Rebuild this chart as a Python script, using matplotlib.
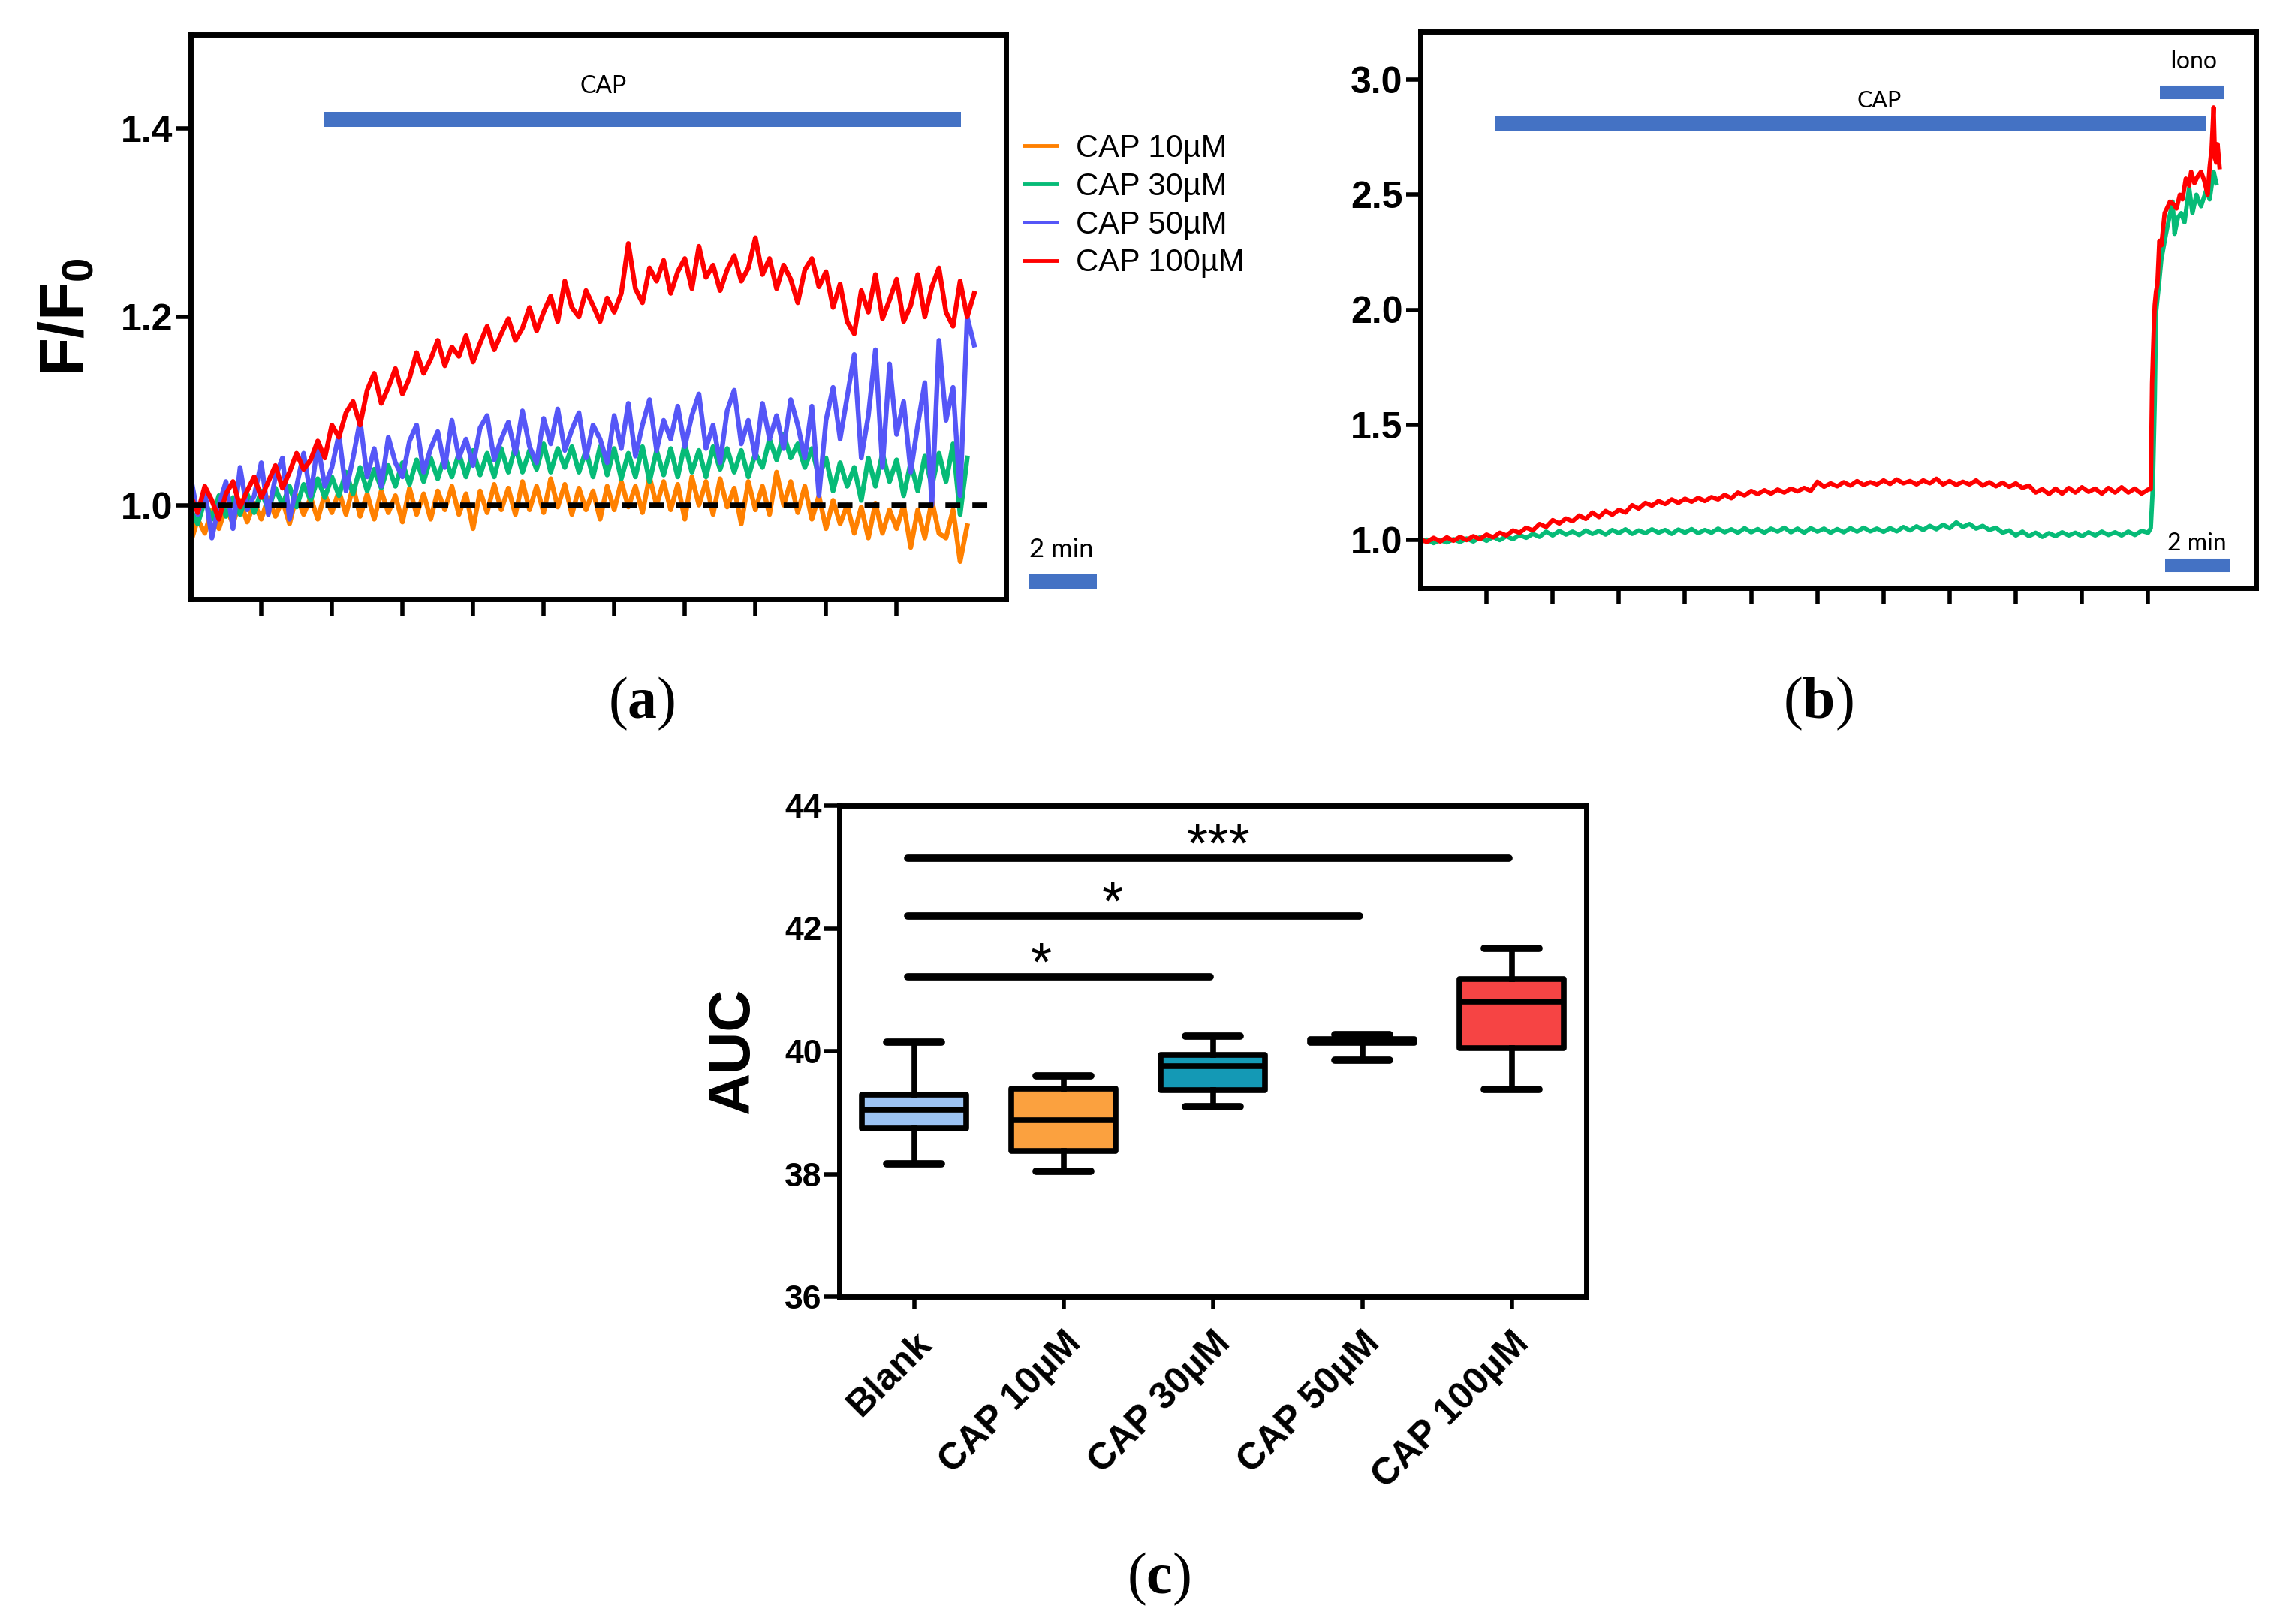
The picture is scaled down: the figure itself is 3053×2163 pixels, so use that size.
import numpy as np
import matplotlib
matplotlib.use("Agg")
import matplotlib.pyplot as plt

plt.rcParams['font.family'] = ['Liberation Sans', 'DejaVu Sans']
plt.rcParams['mathtext.fontset'] = 'custom'
plt.rcParams['mathtext.bf'] = 'Liberation Serif:bold'
plt.rcParams['mathtext.rm'] = 'Liberation Serif'
plt.rcParams['mathtext.sf'] = 'Liberation Sans:bold'

# ---------------- Panel (a) data: F/F0 traces, sampled every 0.1 time units -------------
a_dt = 0.1
a_cap10 = [0.960, 0.985, 0.970, 0.995, 0.975, 0.998, 0.980, 1.005, 0.982, 1.002,
           0.985, 1.008, 0.988, 1.005, 0.980, 1.010, 0.990, 1.008, 0.985, 1.012,
           0.992, 1.015, 0.990, 1.020, 0.988, 1.012, 0.985, 1.015, 0.992, 1.010,
           0.982, 1.018, 0.990, 1.012, 0.985, 1.015, 0.995, 1.020, 0.990, 1.012,
           0.975, 1.015, 0.992, 1.022, 0.995, 1.018, 0.990, 1.025, 0.995, 1.020,
           0.992, 1.028, 0.998, 1.022, 0.990, 1.018, 0.995, 1.015, 0.985, 1.020,
           0.995, 1.025, 0.998, 1.020, 0.992, 1.030, 1.000, 1.025, 0.995, 1.022,
           0.985, 1.030, 1.000, 1.025, 0.990, 1.028, 0.998, 1.018, 0.980, 1.025,
           0.995, 1.020, 0.990, 1.035, 1.000, 1.025, 0.992, 1.020, 0.985, 1.010,
           0.975, 1.005, 0.980, 1.000, 0.970, 0.998, 0.965, 1.002, 0.970, 0.995,
           0.975, 1.000, 0.955, 0.995, 0.965, 1.005, 0.970, 0.965, 0.995, 0.940,
           0.978]
a_cap30 = [0.995, 0.980, 1.005, 0.985, 1.010, 0.988, 1.008, 0.990, 1.012, 0.992,
           1.015, 0.995, 1.018, 1.000, 1.020, 0.998, 1.022, 1.005, 1.028, 1.008,
           1.030, 1.010, 1.035, 1.012, 1.040, 1.015, 1.038, 1.018, 1.042, 1.020,
           1.045, 1.022, 1.048, 1.025, 1.050, 1.028, 1.052, 1.030, 1.055, 1.030,
           1.058, 1.032, 1.055, 1.030, 1.060, 1.035, 1.062, 1.035, 1.058, 1.038,
           1.065, 1.035, 1.060, 1.040, 1.062, 1.035, 1.058, 1.030, 1.062, 1.032,
           1.060, 1.028, 1.055, 1.030, 1.062, 1.025, 1.058, 1.032, 1.060, 1.030,
           1.065, 1.035, 1.058, 1.030, 1.062, 1.038, 1.060, 1.035, 1.058, 1.030,
           1.055, 1.040, 1.070, 1.048, 1.075, 1.050, 1.065, 1.040, 1.060, 1.030,
           1.050, 1.015, 1.045, 1.020, 1.040, 1.005, 1.050, 1.020, 1.055, 1.025,
           1.048, 1.010, 1.045, 1.015, 1.052, 1.020, 1.055, 1.025, 1.065, 0.990,
           1.050]
a_cap50 = [1.030, 0.990, 1.015, 0.965, 1.000, 1.025, 0.975, 1.040, 0.995, 1.010, 1.045,
           0.990, 1.030, 1.050, 0.985, 1.020, 1.055, 1.010, 1.065, 1.020, 1.040,
           1.075, 1.015, 1.050, 1.090, 1.030, 1.060, 1.020, 1.072, 1.045, 1.030,
           1.068, 1.085, 1.035, 1.060, 1.078, 1.040, 1.090, 1.050, 1.070, 1.042,
           1.082, 1.095, 1.048, 1.070, 1.088, 1.055, 1.100, 1.062, 1.045, 1.092,
           1.065, 1.102, 1.058, 1.080, 1.098, 1.050, 1.085, 1.070, 1.045, 1.095,
           1.060, 1.108, 1.052, 1.085, 1.112, 1.058, 1.090, 1.070, 1.105, 1.062,
           1.095, 1.118, 1.060, 1.085, 1.045, 1.100, 1.122, 1.065, 1.090, 1.050,
           1.108, 1.070, 1.095, 1.060, 1.112, 1.085, 1.050, 1.105, 1.010, 1.090,
           1.125, 1.070, 1.115, 1.160, 1.050, 1.095, 1.165, 1.040, 1.150, 1.075,
           1.110, 1.035, 1.085, 1.130, 1.000, 1.175, 1.090, 1.125, 1.010, 1.200, 1.170]
a_cap100 = [1.010, 0.992, 1.020, 1.005, 0.985, 1.012, 1.025, 0.998, 1.015, 1.030, 1.008,
            1.025, 1.042, 1.018, 1.035, 1.055, 1.038, 1.048, 1.068, 1.050, 1.085,
            1.072, 1.098, 1.110, 1.085, 1.122, 1.140, 1.108, 1.125, 1.145, 1.118,
            1.135, 1.162, 1.140, 1.155, 1.175, 1.148, 1.168, 1.158, 1.180, 1.152,
            1.172, 1.190, 1.165, 1.182, 1.198, 1.175, 1.188, 1.210, 1.185, 1.205,
            1.222, 1.195, 1.238, 1.210, 1.200, 1.228, 1.212, 1.195, 1.220, 1.205,
            1.225, 1.278, 1.230, 1.215, 1.252, 1.238, 1.260, 1.225, 1.248, 1.262,
            1.230, 1.275, 1.242, 1.255, 1.228, 1.250, 1.265, 1.238, 1.252, 1.284,
            1.245, 1.262, 1.230, 1.255, 1.240, 1.215, 1.250, 1.262, 1.232, 1.248,
            1.210, 1.235, 1.195, 1.182, 1.228, 1.205, 1.245, 1.198, 1.218, 1.240,
            1.195, 1.212, 1.245, 1.200, 1.232, 1.252, 1.205, 1.190, 1.238, 1.200, 1.225]
a_labels = ['CAP 10µM', 'CAP 30µM', 'CAP 50µM', 'CAP 100µM']
a_yticks = [1.0, 1.2, 1.4]

# ---------------- Panel (b) data ----------------
b_dt = 0.1
b_red_pre = [1.000, 0.990, 1.008, 0.992, 1.010, 0.995, 1.012, 0.998, 1.015, 1.002,
             1.022, 1.010, 1.030, 1.018, 1.040, 1.030, 1.052, 1.040, 1.068, 1.055,
             1.085, 1.070, 1.092, 1.080, 1.105, 1.090, 1.118, 1.098, 1.125, 1.108,
             1.130, 1.118, 1.150, 1.135, 1.160, 1.148, 1.168, 1.155, 1.175, 1.160,
             1.178, 1.165, 1.182, 1.168, 1.185, 1.175, 1.195, 1.180, 1.205, 1.192,
             1.212, 1.198, 1.215, 1.200, 1.218, 1.205, 1.222, 1.210, 1.225, 1.212,
             1.252, 1.230, 1.245, 1.232, 1.250, 1.235, 1.255, 1.238, 1.250, 1.240,
             1.258, 1.242, 1.262, 1.245, 1.255, 1.240, 1.258, 1.245, 1.265, 1.240,
             1.255, 1.238, 1.252, 1.240, 1.258, 1.235, 1.250, 1.232, 1.248, 1.230,
             1.245, 1.225, 1.235, 1.205, 1.220, 1.198, 1.222, 1.200, 1.225, 1.205,
             1.228, 1.208, 1.222, 1.200, 1.225, 1.205, 1.228, 1.205, 1.222, 1.200,
             1.218]
b_green_pre = [0.990, 1.000, 0.985, 0.998, 0.988, 1.002, 0.990, 1.005, 0.992, 1.010,
               0.995, 1.012, 0.998, 1.015, 1.002, 1.020, 1.008, 1.025, 1.012, 1.035,
               1.018, 1.038, 1.022, 1.035, 1.020, 1.040, 1.025, 1.038, 1.022, 1.042,
               1.028, 1.045, 1.025, 1.040, 1.028, 1.045, 1.030, 1.042, 1.025, 1.044,
               1.030, 1.046, 1.028, 1.042, 1.030, 1.048, 1.032, 1.045, 1.030, 1.050,
               1.032, 1.046, 1.030, 1.048, 1.035, 1.052, 1.032, 1.048, 1.030, 1.050,
               1.035, 1.048, 1.030, 1.046, 1.032, 1.050, 1.035, 1.052, 1.036, 1.048,
               1.034, 1.050, 1.036, 1.055, 1.040, 1.058, 1.042, 1.060, 1.045, 1.065,
               1.050, 1.075, 1.055, 1.068, 1.048, 1.060, 1.042, 1.052, 1.030, 1.040,
               1.018, 1.035, 1.015, 1.030, 1.012, 1.028, 1.015, 1.032, 1.018, 1.030,
               1.015, 1.032, 1.018, 1.035, 1.020, 1.032, 1.018, 1.035, 1.020, 1.038,
               1.030]
b_red_post_t = [11.04, 11.06, 11.09, 11.10, 11.12, 11.14, 11.17, 11.20, 11.25, 11.30,
                11.33, 11.38, 11.43, 11.48, 11.52, 11.57, 11.62, 11.65, 11.70, 11.75,
                11.80, 11.85, 11.90, 11.93, 11.96, 11.99, 12.01, 12.03, 12.05, 12.08]
b_red_post = [1.22, 1.68, 1.95, 2.02, 2.08, 2.11, 2.30, 2.28, 2.42, 2.45,
              2.47, 2.46, 2.44, 2.50, 2.48, 2.57, 2.54, 2.60, 2.55, 2.58,
              2.60, 2.56, 2.50, 2.62, 2.70, 2.88, 2.66, 2.64, 2.72, 2.62]
b_green_post_t = [11.04, 11.07, 11.10, 11.12, 11.16, 11.20, 11.27, 11.32, 11.37, 11.40,
                  11.45, 11.50, 11.55, 11.62, 11.67, 11.73, 11.80, 11.88, 11.93, 11.99,
                  12.03]
b_green_post = [1.05, 1.22, 1.60, 1.99, 2.10, 2.22, 2.33, 2.40, 2.47, 2.33,
                2.40, 2.42, 2.38, 2.53, 2.42, 2.50, 2.45, 2.52, 2.48, 2.60,
                2.55]
b_yticks = [1.0, 1.5, 2.0, 2.5, 3.0]

# ---------------- Panel (c) data: AUC box statistics ----------------
c_labels = ['Blank', 'CAP 10µM', 'CAP 30µM', 'CAP 50µM', 'CAP 100µM']
c_whislo = [38.16, 38.04, 39.10, 39.85, 39.38]
c_q1 = [38.74, 38.37, 39.37, 40.13, 40.05]
c_med = [39.04, 38.88, 39.76, 40.16, 40.81]
c_q3 = [39.29, 39.39, 39.94, 40.20, 41.18]
c_whishi = [40.15, 39.60, 40.24, 40.27, 41.67]
c_colors = ['#9CC3F3', '#FBA13F', '#1499B5', '#8E86E0', '#F64444']
c_sig_from = [0, 0, 0]
c_sig_to = [2, 3, 4]
c_sig_y = [41.21, 42.20, 43.14]
c_sig_text = ['*', '*', '***']
c_sig_text_x = [0.85, 1.33, 2.04]
c_yticks = [36, 38, 40, 42, 44]

# ---------------- Figure ----------------
W, H = 3053, 2163
fig = plt.figure(figsize=(W / 100, H / 100), dpi=100)

BAR_BLUE = '#4472C4'
trace_colors = ['#FF8000', '#06BB77', '#5556F7', '#FF0000']


def style_axes(ax, lw=5):
    for s in ax.spines.values():
        s.set_linewidth(lw)
        s.set_color('black')


# ---- Panel (a)
ax1 = fig.add_axes([254 / W, 1 - 798 / H, 1086 / W, 752 / H])
style_axes(ax1)
series_a = [a_cap10, a_cap30, a_cap50, a_cap100]
for vals, col, lab in zip(series_a, trace_colors, a_labels):
    t = np.arange(len(vals)) * a_dt
    ax1.plot(t, vals, color=col, lw=4.6, label=lab)
ax1.plot([0, 11.32], [1.0, 1.0], color='black', lw=5.5, dashes=(2.6, 2.1), zorder=5)
ax1.set_xlim(0, 11.55)
ax1.set_ylim(0.9, 1.5)
ax1.set_xticks(range(1, 11))
ax1.set_xticklabels([])
ax1.set_yticks(a_yticks)
ax1.set_yticklabels([f'{v:.1f}' for v in a_yticks], fontsize=36, fontweight='bold')
ax1.tick_params(axis='x', direction='out', length=16, width=4)
ax1.tick_params(axis='y', direction='out', length=14, width=4, pad=3)
ax1.set_ylabel('F/$\\mathsf{F}_\\mathsf{0}$', fontsize=60, fontweight='bold')
ax1.yaxis.set_label_coords(-0.115, 0.5)
ax1.plot([1.88, 10.91], [1.41, 1.41], color=BAR_BLUE, lw=14.4, solid_capstyle='butt')
ax1.text(5.85, 1.445, 'CAP', fontsize=23, family='Lato', ha='center', va='center')
ax1.plot([11.88, 12.84], [0.919, 0.919], color=BAR_BLUE, lw=14.4,
         solid_capstyle='butt', clip_on=False)
ax1.text(12.34, 0.953, '2 min', fontsize=25, family='Lato', ha='center', va='center',
         clip_on=False)
leg = ax1.legend(loc='upper left', bbox_to_anchor=(1364 / W, 1 - 178 / H),
                 bbox_transform=fig.transFigure, frameon=False, fontsize=30,
                 handlelength=1.05, handletextpad=0.6, labelspacing=0.26,
                 borderpad=0, borderaxespad=0)
for ln in leg.get_lines():
    ln.set_linewidth(3.5)

# ---- Panel (b)
ax2 = fig.add_axes([1892 / W, 1 - 783 / H, 1113 / W, 741 / H])
style_axes(ax2)
t_pre = np.arange(len(b_green_pre)) * b_dt
ax2.plot(np.concatenate([t_pre, b_green_post_t]), b_green_pre + b_green_post,
         color='#06BB77', lw=4.2)
t_pre = np.arange(len(b_red_pre)) * b_dt
ax2.plot(np.concatenate([t_pre, b_red_post_t]), b_red_pre + b_red_post,
         color='#FF0000', lw=4.2)
ax2.set_xlim(0, 12.63)
ax2.set_ylim(0.79, 3.21)
ax2.set_xticks(range(1, 12))
ax2.set_xticklabels([])
ax2.set_yticks(b_yticks)
ax2.set_yticklabels([f'{v:.1f}' for v in b_yticks], fontsize=36, fontweight='bold')
ax2.tick_params(axis='x', direction='out', length=16, width=4)
ax2.tick_params(axis='y', direction='out', length=14, width=4, pad=3)
ax2.plot([1.14, 11.88], [2.81, 2.81], color=BAR_BLUE, lw=14.4, solid_capstyle='butt')
ax2.text(6.94, 2.91, 'CAP', fontsize=22, family='Lato', ha='center', va='center')
ax2.plot([11.18, 12.15], [2.944, 2.944], color=BAR_BLUE, lw=13, solid_capstyle='butt')
ax2.text(11.68, 3.08, 'Iono', fontsize=23, family='Lato', ha='center', va='center')
ax2.plot([11.26, 12.24], [0.889, 0.889], color=BAR_BLUE, lw=13, solid_capstyle='butt')
ax2.text(11.74, 0.984, '2 min', fontsize=23, family='Lato', ha='center', va='center')

# ---- Panel (c)
ax3 = fig.add_axes([1118 / W, 1 - 1727 / H, 995 / W, 654 / H])
style_axes(ax3)
stats = []
for i in range(len(c_labels)):
    stats.append(dict(label=c_labels[i], whislo=c_whislo[i], q1=c_q1[i], med=c_med[i],
                      q3=c_q3[i], whishi=c_whishi[i], fliers=[]))
bp = ax3.bxp(stats, positions=range(len(c_labels)), widths=0.7, capwidths=0.37,
             patch_artist=True, showfliers=False,
             boxprops=dict(linewidth=5.5, edgecolor='black'),
             medianprops=dict(linewidth=5.5, color='black', solid_capstyle='butt'),
             whiskerprops=dict(linewidth=5.5, color='black'),
             capprops=dict(linewidth=7, color='black', solid_capstyle='round'))
for patch, col in zip(bp['boxes'], c_colors):
    patch.set_facecolor(col)
    patch.set_joinstyle('round')
for a, b, y, s, tx in zip(c_sig_from, c_sig_to, c_sig_y, c_sig_text, c_sig_text_x):
    ax3.plot([a - 0.045, b - 0.02], [y, y], color='black', lw=7, solid_capstyle='round')
    ax3.text(tx, y - 0.24, s, fontsize=52, ha='center', va='bottom')
ax3.set_xlim(-0.5, 4.5)
ax3.set_ylim(36, 44)
ax3.set_yticks(c_yticks)
ax3.set_yticklabels([str(v) for v in c_yticks], fontsize=32, fontweight='bold')
ax3.set_xticks(range(len(c_labels)))
ax3.set_xticklabels(c_labels, rotation=45, ha='right', va='top', rotation_mode='anchor',
                    fontsize=36, fontweight='bold')
ax3.tick_params(axis='x', direction='out', length=12, width=4, pad=16)
ax3.tick_params(axis='y', direction='out', length=15, width=4, pad=2)
ax3.set_ylabel('AUC', fontsize=56, fontweight='bold')
ax3.yaxis.set_label_coords(-0.105, 0.5)

# ---- Panel labels
for x, y, l in [(855, 937, 'a'), (2422, 937, 'b'), (1543, 2103, 'c')]:
    fig.text(x / W, 1 - y / H, '($\\mathbf{' + l + '}$)', fontsize=56,
             family='Liberation Serif', ha='center', va='center')

fig.savefig('out.png', dpi=100)
